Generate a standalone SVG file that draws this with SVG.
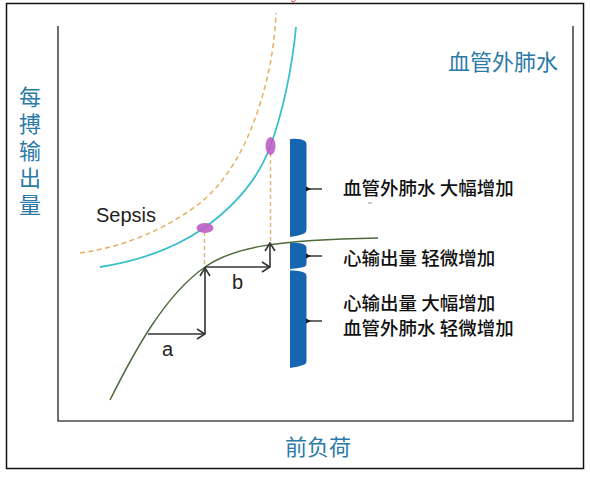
<svg xmlns="http://www.w3.org/2000/svg" width="591" height="477" viewBox="0 0 591 477">
<defs>
<style>
.axis{fill:none;stroke:#4a4a4a;stroke-width:1.6}
.blue{fill:#2b7aa8;font-family:"Noto Sans CJK SC","Noto Sans",sans-serif;font-size:22px}
.lbl{fill:#111;font-family:"Noto Sans CJK SC","Noto Sans",sans-serif;font-size:18.5px;font-weight:500}
.lat{fill:#222;font-family:"Liberation Sans",Arial,sans-serif;font-size:20px}
.bar{fill:#1565b0}
.tick{fill:none;stroke:#1a1a1a;stroke-width:1.3}
.arr{fill:none;stroke:#333;stroke-width:1.6;marker-end:url(#ah)}
.drop{fill:none;stroke:#dcb474;stroke-width:1.4;stroke-dasharray:4 3}
.dot{fill:#c05cc4;opacity:0.9}
</style>
<marker id="ah" viewBox="0 0 10 12" refX="9" refY="6" markerWidth="10" markerHeight="12" markerUnits="userSpaceOnUse" orient="auto">
<path d="M1,1 L9,6 L1,11" fill="none" stroke="#333" stroke-width="1.6"/>
</marker>
</defs>
<rect width="591" height="477" fill="#fff"/>
<rect x="6.5" y="3.5" width="577" height="465" fill="none" stroke="#111" stroke-width="1.5"/>
<path d="M291,0.5 Q293,3.5 295.5,0.5" fill="none" stroke="#d04040" stroke-width="1"/>
<g id="axes">
<path class="axis" d="M58,26 L58,421 L573,421 L573,26"/>
</g>
<g id="y-label"><text class="blue" x="30" y="86" style="writing-mode:vertical-rl" letter-spacing="5">每搏输出量</text></g>
<g id="x-label"><text class="blue" x="285" y="455">前负荷</text></g>
<g id="evlw-label"><text class="blue" x="448" y="70">血管外肺水</text></g>
<g id="curves">
<path id="sepsis-dashed" d="M80,253 C125,247 168,228 200,203 C225,183 245,150 258,110 C270,75 275,40 276,13" fill="none" stroke="#e6ae62" stroke-width="1.5" stroke-dasharray="5 3.5"/>
<path id="evlw-curve" d="M100,267 C145,260 178,246 204,228 C232,208 257,182 270,147 C282,115 292,70 296,27" fill="none" stroke="#3bbfcc" stroke-width="1.8"/>
<path id="starling-curve" d="M110,400 C135,350 165,295 205,267 C235,246 280,240 378,238" fill="none" stroke="#4d6b3a" stroke-width="1.5"/>
</g>
<g id="connectors">
<path class="drop" d="M204.5,232 L204.5,267"/>
<path class="drop" d="M270.5,153 L270.5,241"/>
<path class="arr" d="M148,334 L205,334"/>
<path class="arr" d="M205,334 L205,268"/>
<path class="arr" d="M205,267 L270,267"/>
<path class="arr" d="M270,267 L270,243"/>
</g>
<g id="points">
<ellipse class="dot" cx="205" cy="228" rx="8.5" ry="5"/>
<ellipse class="dot" cx="270.5" cy="146" rx="5" ry="9"/>
</g>
<g id="sepsis-label"><text class="lat" x="96" y="222" font-size="19">Sepsis</text></g>
<g id="a-label"><text class="lat" x="162" y="356">a</text></g>
<g id="b-label"><text class="lat" x="232" y="289">b</text></g>
<g id="bar1">
<path class="bar" d="M290,139 Q300,138 305,141 Q306.5,142 306.5,145 L306.5,229 Q306.5,233 303,234 Q298,236 290,237 Z"/>
<path class="tick" d="M306,189 L322,189"/>
<path d="M306,186.5 L311,189 L306,191.5 Z" fill="#1a1a1a"/>
<text class="lbl" x="343" y="195">血管外肺水 大幅增加</text>
<path d="M368,203 L372,203" stroke="#999" stroke-width="1"/>
</g>
<g id="bar2">
<path class="bar" d="M290,243 Q300,242 305,245 Q306.5,246 306.5,248 L306.5,264 Q306.5,266 304,267 Q298,268.5 290,269 Z"/>
<path class="tick" d="M306,256 L322,256"/>
<path d="M306,253.5 L311,256 L306,258.5 Z" fill="#1a1a1a"/>
<text class="lbl" x="343" y="265">心输出量 轻微增加</text>
</g>
<g id="bar3">
<path class="bar" d="M290,270.5 Q300,270 305,273 Q306.5,274 306.5,277 L306.5,361 Q306.5,364 303,365 Q298,367 290,368 Z"/>
<path class="tick" d="M306,321 L322,321"/>
<path d="M306,318.5 L311,321 L306,323.5 Z" fill="#1a1a1a"/>
<text class="lbl" x="343" y="310">心输出量 大幅增加</text>
<text class="lbl" x="343" y="335">血管外肺水 轻微增加</text>
</g>
</svg>
